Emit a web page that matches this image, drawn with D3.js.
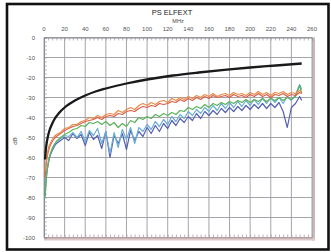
<!DOCTYPE html>
<html><head><meta charset="utf-8">
<script src="https://cdn.jsdelivr.net/npm/d3@7"></script>
<style>html,body{margin:0;padding:0;background:#fff;}svg{display:block;font-family:Arial,"Liberation Sans",sans-serif;}</style>
</head><body><svg id="c" width="331" height="252"></svg>
<script>
const title = "PS ELFEXT";
const xTitle = "MHz";
const yTitle = "dB";
const xTicks = [0,20,40,60,80,100,120,140,160,180,200,220,240,260];
const xTickLabels = ["0","20","40","60","80","100","120","140","160","180","200","220","240","260"];
const yTicks = [0,-10,-20,-30,-40,-50,-60,-70,-80,-90,-100];
const yTickLabels = ["0","-10","-20","-30","-40","-50","-60","-70","-80","-90","-100"];

const limitFreq = [1,2,3,5,8,10,15,20,30,40,50,60,80,100,125,150,175,200,225,250];
const limitVals = [-61,-55,-51.5,-47,-43,-41,-37.5,-35,-31.5,-29,-27,-25.5,-23,-21,-19,-17.5,-16.2,-15,-14,-13];

const freq = [1,2,3,4,5,6,8,10,12,16,20,24,28,32,36,40,44,48,52,56,60,64,68,72,76,80,84,88,92,96,100,104,108,112,116,120,124,128,132,136,140,144,148,152,156,160,164,168,172,176,180,184,188,192,196,200,204,208,212,216,220,224,228,232,236,240,244,248,250];

const orange = [-67,-62,-58.5,-56,-54,-53,-51,-49.5,-48.5,-47.5,-45.5,-45,-43.5,-43.5,-42,-41.5,-40,-40.5,-39,-40,-38.5,-38,-38.5,-36.5,-37.5,-36,-35,-36,-34,-33,-34,-32.5,-33.5,-32,-31.5,-32.5,-30.5,-31.5,-30,-31,-29.5,-30.5,-29,-30,-28.5,-29.5,-28,-29.5,-28.5,-28,-29,-27.5,-28.5,-28,-29,-27.5,-28.5,-27,-28.5,-27.5,-29,-27.5,-28,-27,-28.5,-27.5,-28,-26.5,-27];
const red = [-70,-64,-60,-57.5,-55.5,-54,-52,-50.5,-49.5,-48,-46.5,-45.5,-44.5,-44,-43,-42,-41.5,-41,-40,-41,-39.5,-39,-39.5,-38,-38.5,-37,-36.5,-37,-35.5,-34.5,-35,-34,-34.5,-33,-33.5,-33,-32,-32.5,-31,-32,-30.5,-31.5,-30,-31,-29.5,-30.5,-29,-30,-29.5,-29,-30,-28.5,-29.5,-29,-30,-28.5,-29.5,-28,-29.5,-28.5,-30,-28.5,-29,-28,-29.5,-28.5,-29,-27.5,-28];
const green = [-80,-72,-67,-63.5,-60.5,-58.5,-55.5,-53.5,-52,-50,-48.5,-47.5,-46,-45.5,-44,-44.5,-42.5,-43,-42,-43.5,-42,-44,-42.5,-45,-43,-44.5,-41.5,-42.5,-40,-41,-39.5,-40.5,-38.5,-39.5,-38,-39,-37.5,-38.5,-36.5,-37,-35,-36,-34.5,-35.5,-33.5,-35,-33,-34,-32.5,-33.5,-32,-33,-31.5,-32.5,-31,-32.5,-31,-32,-30.5,-32,-30.5,-31.5,-30,-31.5,-30,-31,-29.5,-24,-28];
const cyan = [-78,-70,-65.5,-62.5,-60,-58.5,-55.5,-53.5,-52,-50.5,-49,-49.5,-47.5,-50,-47,-52,-46.5,-49,-45.5,-53,-47,-58,-47.5,-55,-46,-51,-45,-53,-45,-47,-43.5,-46,-42,-44.5,-41,-43.5,-39.5,-42,-38.5,-40.5,-37,-39,-36,-38,-35,-37,-34,-36.5,-33,-35.5,-32.5,-35,-32,-34.5,-31.5,-34,-31,-33.5,-30.5,-33,-30,-32.5,-30,-33,-29.5,-31.5,-28.5,-23.5,-26];
const blue = [-79,-71,-66.5,-63.5,-61,-59,-56.5,-54.5,-53,-51.5,-50,-51.5,-48,-50.5,-48.5,-54,-47.5,-51,-49,-55.5,-47,-60,-49,-53,-48,-56,-46.5,-51.5,-47,-49.5,-45,-48,-44,-47,-43,-45.5,-41.5,-44,-40.5,-42.5,-39.5,-41.5,-38,-40.5,-37,-39,-36.5,-38.5,-35.5,-37.5,-35,-37,-34.5,-36.5,-34,-36,-33.5,-35.5,-33,-35.5,-33,-35,-32.5,-37,-45,-35,-33,-29.5,-31.5];

const seriesNames = ["blue","cyan","green","red","orange"];
const seriesData = [blue, cyan, green, red, orange];
const seriesColors = ["#5560b0","#6aaed6","#5cb35a","#d8604a","#ec8a4a"];

const svg = d3.select("#c");
const x = d3.scaleLinear().domain([0,260]).range([44,312]);
const y = d3.scaleLinear().domain([-100,0]).range([237.5,37.5]);

// outer frame
svg.append("rect").attr("x",7).attr("y",4).attr("width",321.5).attr("height",245.5)
  .attr("fill","none").attr("stroke","#111").attr("stroke-width",2.6);

// shadow border right & bottom
svg.append("rect").attr("x",x(260)).attr("y",y(0)).attr("width",3).attr("height",y(-100)-y(0)+3).attr("fill","#c9b8b8");
svg.append("rect").attr("x",x(0)).attr("y",y(-100)).attr("width",x(260)-x(0)+3).attr("height",3).attr("fill","#dcc8c8");

// grid
const g = svg.append("g");
g.selectAll(".vg").data(xTicks).join("line")
  .attr("x1",d=>x(d)).attr("x2",d=>x(d)).attr("y1",y(0)).attr("y2",y(-100))
  .attr("stroke","#9a9aa2").attr("stroke-width",0.9);
g.selectAll(".hg").data(yTicks).join("line")
  .attr("x1",x(0)).attr("x2",x(260)).attr("y1",d=>y(d)).attr("y2",d=>y(d))
  .attr("stroke","#9a9aa2").attr("stroke-width",0.9);

// minor ticks
const topAxis = d3.axisTop(x).tickValues(d3.range(0,261,4)).tickSize(-3).tickFormat("");
svg.append("g").attr("transform",`translate(0,${y(0)})`).call(topAxis)
  .call(s=>s.select(".domain").attr("stroke","#8a8a92"))
  .call(s=>s.selectAll(".tick line").attr("stroke","#9a9aa2").attr("stroke-width",0.7));
const botAxis = d3.axisTop(x).tickValues(d3.range(0,261,4)).tickSize(3).tickFormat("");
svg.append("g").attr("transform",`translate(0,${y(-100)})`).call(botAxis)
  .call(s=>s.select(".domain").attr("stroke","#b8a0a0"))
  .call(s=>s.selectAll(".tick line").attr("stroke","#b8a0a8").attr("stroke-width",0.8));
const leftAxis = d3.axisRight(y).tickValues(d3.range(-100,1,2)).tickSize(3).tickFormat("");
svg.append("g").attr("transform",`translate(${x(0)},0)`).call(leftAxis)
  .call(s=>s.select(".domain").attr("stroke","#8a8a92"))
  .call(s=>s.selectAll(".tick line").attr("stroke","#9a9aa2").attr("stroke-width",0.7));

// tick labels
svg.selectAll(".xl").data(xTicks).join("text")
  .attr("x",d=>x(d)).attr("y",31).attr("text-anchor","middle")
  .attr("font-size",6).attr("fill","#555").text((d,i)=>xTickLabels[i]);
svg.selectAll(".yl").data(yTicks).join("text")
  .attr("x",35).attr("y",d=>y(d)+2).attr("text-anchor","end")
  .attr("font-size",6).attr("fill","#555").text((d,i)=>yTickLabels[i]);

// titles
svg.append("text").attr("x",172).attr("y",15).attr("text-anchor","middle")
  .attr("font-size",7.5).attr("fill","#222").text(title);
svg.append("text").attr("x",178).attr("y",23).attr("text-anchor","middle")
  .attr("font-size",5.5).attr("fill","#444").text(xTitle);
svg.append("text").attr("transform","translate(17,141) rotate(-90)").attr("text-anchor","middle")
  .attr("font-size",6).attr("fill","#444").text(yTitle);

// series
const clip = svg.append("clipPath").attr("id","pc").append("rect")
  .attr("x",x(0)).attr("y",y(0)).attr("width",x(260)-x(0)).attr("height",y(-100)-y(0));
const line = d3.line().x((d,i)=>x(freq[i])).y(d=>y(d));
const pg = svg.append("g").attr("clip-path","url(#pc)");
seriesData.forEach((s,k)=>{
  pg.append("path").datum(s).attr("d",line).attr("fill","none")
    .attr("stroke",seriesColors[k]).attr("stroke-width",1.2).attr("stroke-linejoin","round")
    .attr("class","series-"+seriesNames[k]);
});
const limLine = d3.line().curve(d3.curveMonotoneX).x((d,i)=>x(limitFreq[i])).y(d=>y(d));
pg.append("path").datum(limitVals).attr("d",limLine).attr("fill","none")
  .attr("stroke","#1a1a1a").attr("stroke-width",2.3);
</script></body></html>
